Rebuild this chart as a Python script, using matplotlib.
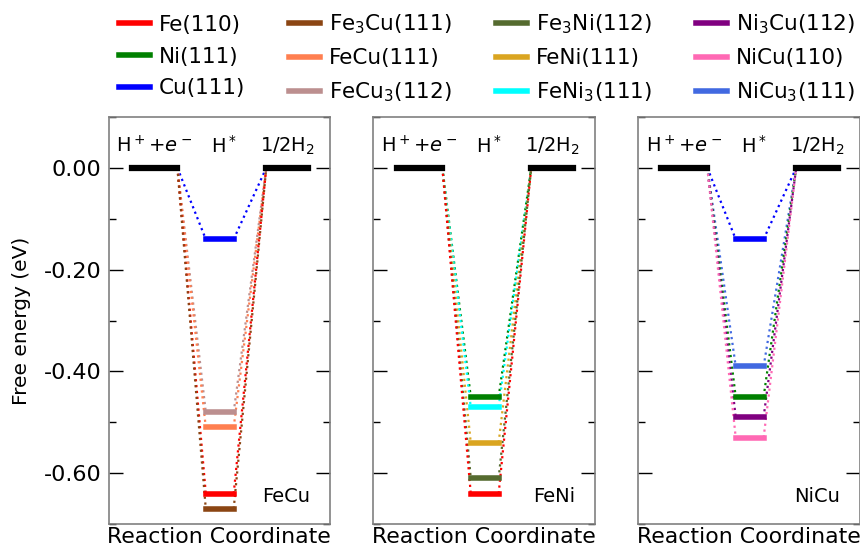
import matplotlib
matplotlib.use("Agg")
import matplotlib.pyplot as plt
from matplotlib.ticker import MultipleLocator, FormatStrFormatter

# surfaces: label, colour
labels = ["Fe(110)", "Ni(111)", "Cu(111)",
          r"Fe$_3$Cu(111)", "FeCu(111)", r"FeCu$_3$(112)",
          r"Fe$_3$Ni(112)", "FeNi(111)", r"FeNi$_3$(111)",
          r"Ni$_3$Cu(112)", "NiCu(110)", r"NiCu$_3$(111)"]
colors = ["red", "green", "blue",
          "saddlebrown", "coral", "rosybrown",
          "darkolivegreen", "goldenrod", "cyan",
          "purple", "hotpink", "royalblue"]

# H* adsorption free energy (eV) for each panel, index into labels
fecu_idx = [2, 5, 4, 0, 3]
fecu_dg = [-0.14, -0.48, -0.51, -0.64, -0.67]
feni_idx = [1, 8, 7, 6, 0]
feni_dg = [-0.45, -0.47, -0.54, -0.61, -0.64]
nicu_idx = [2, 11, 1, 9, 10]
nicu_dg = [-0.14, -0.39, -0.45, -0.49, -0.53]

panels = [("FeCu", fecu_idx, fecu_dg),
          ("FeNi", feni_idx, feni_dg),
          ("NiCu", nicu_idx, nicu_dg)]

# horizontal extent of the three states (axes x from 0 to 1)
x_left = (0.104, 0.311)
x_mid = (0.439, 0.565)
x_right = (0.712, 0.901)

plt.rcParams["axes.unicode_minus"] = False

fig, axes = plt.subplots(1, 3, figsize=(8.6, 5.47), dpi=100, sharey=True)
fig.subplots_adjust(left=0.1262, right=1.0, top=0.786, bottom=0.042, wspace=0.196)

for ax, (name, idx, dg) in zip(axes, panels):
    ax.plot(x_left, [0, 0], color="black", lw=4.5, zorder=3)
    ax.plot(x_right, [0, 0], color="black", lw=4.5, zorder=3)
    for i, g in zip(idx, dg):
        c = colors[i]
        ax.plot(x_mid, [g, g], color=c, lw=4, zorder=3)
        ax.plot([x_left[1], x_mid[0]], [0, g], color=c, ls=":", lw=1.6)
        ax.plot([x_mid[1], x_right[0]], [g, 0], color=c, ls=":", lw=1.6)

    ax.text(sum(x_left) / 2, 0.022, r"$\mathrm{H}^+{+}e^-$", ha="center", va="bottom", fontsize=14)
    ax.text(sum(x_mid) / 2 + 0.018, 0.022, r"$\mathrm{H}^*$", ha="center", va="bottom", fontsize=14)
    ax.text(sum(x_right) / 2, 0.022, r"$\mathrm{1/2H_2}$", ha="center", va="bottom", fontsize=14)
    ax.text(0.91, 0.053, name, transform=ax.transAxes, ha="right", va="baseline", fontsize=14)

    ax.set_xlim(0, 1)
    ax.set_ylim(-0.7, 0.1)
    ax.set_xticks([])
    ax.set_xlabel("Reaction Coordinate", fontsize=15.8, labelpad=2)
    ax.yaxis.set_major_locator(MultipleLocator(0.2))
    ax.yaxis.set_minor_locator(MultipleLocator(0.1))
    ax.yaxis.set_major_formatter(FormatStrFormatter("%.2f"))
    ax.tick_params(axis="y", which="major", direction="in", length=10, width=1,
                   left=True, right=True, labelsize=16, pad=5)
    ax.tick_params(axis="y", which="minor", direction="in", length=5, width=1,
                   left=True, right=True)
    for s in ax.spines.values():
        s.set_color("0.5")
        s.set_linewidth(1.2)

axes[0].set_ylabel("Free energy (eV)", fontsize=14.5, labelpad=9)
for ax in axes[1:]:
    ax.tick_params(axis="y", labelleft=False)

handles = [plt.Line2D([], [], color=c, lw=4) for c in colors]
fig.legend(handles, labels, loc="upper center", bbox_to_anchor=(0.566, 1.012), ncol=4,
           frameon=False, fontsize=15.5, handlelength=1.45, handletextpad=0.4,
           columnspacing=2.05, labelspacing=0.55)

fig.savefig("out.png", dpi=100)
